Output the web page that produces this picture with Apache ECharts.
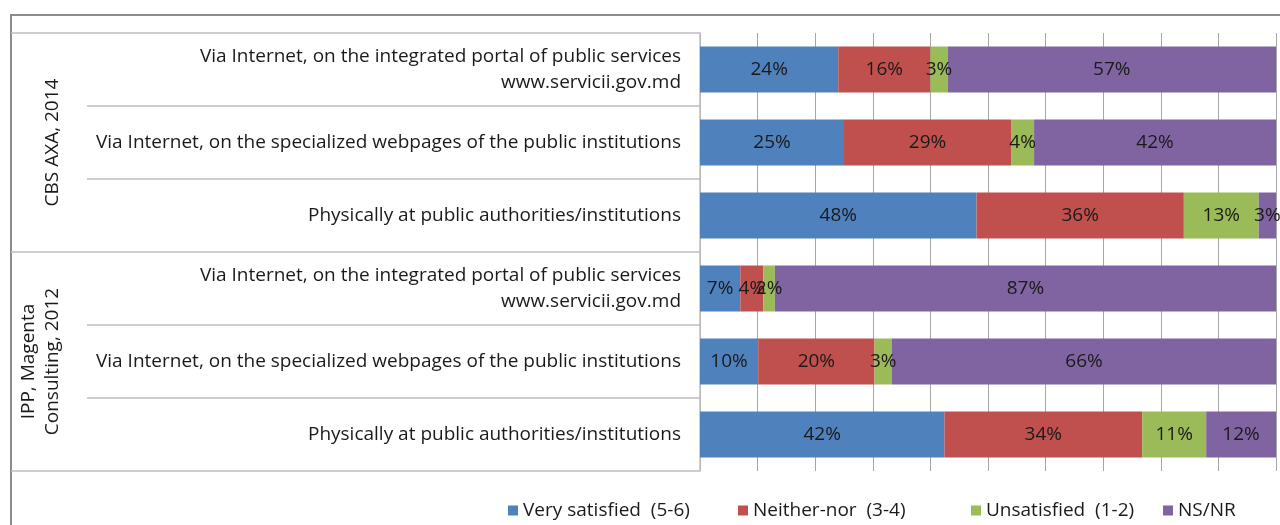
<!DOCTYPE html>
<html>
<head>
<meta charset="utf-8">
<title>Satisfaction with the way public services are obtained</title>
<script src="https://cdn.jsdelivr.net/npm/echarts@6/dist/echarts.min.js"></script>
<style>
  html, body { margin: 0; padding: 0; background: #fff; }
  #chart { width: 1280px; height: 525px; }
</style>
</head>
<body>
<div id="chart"></div>
<script>
// Ways of obtaining public services, top to bottom
const categories = [
  'Via Internet, on the integrated portal of public services\nwww.servicii.gov.md',
  'Via Internet, on the specialized webpages of the public institutions',
  'Physically at public authorities/institutions',
  'Via Internet, on the integrated portal of public services\nwww.servicii.gov.md',
  'Via Internet, on the specialized webpages of the public institutions',
  'Physically at public authorities/institutions'
];
// Survey sources, each covering three rows
const groups = ['CBS AXA, 2014', 'IPP, Magenta\nConsulting, 2012'];

// Shares of respondents, %
const verySatisfied = [24, 25, 48, 7, 10, 42];
const neitherNor    = [16, 29, 36, 4, 20, 34];
const unsatisfied   = [3, 4, 13, 2, 3, 11];
const nsNr          = [57, 42, 3, 87, 66, 12];

const seriesNames = ['Very satisfied  (5-6)', 'Neither-nor  (3-4)', 'Unsatisfied  (1-2)', 'NS/NR'];
const seriesColors = ['#4f81bd', '#c0504d', '#9bbb59', '#8064a2'];
const seriesValues = [verySatisfied, neitherNor, unsatisfied, nsNr];

// 100% stacked: each row is scaled to its own total
const rowTotals = categories.map((_, i) => seriesValues.reduce((s, arr) => s + arr[i], 0));

const FONT = 'Open Sans';
const FS = 19;
const TEXT = '#1a1a1a';

// one legend entry per block so the spacing follows the original key
const legendLeft = [508, 738, 971, 1163];

const chart = echarts.init(document.getElementById('chart'), null, { renderer: 'canvas' });

chart.setOption({
  animation: false,
  textStyle: { fontFamily: FONT },
  grid: { left: 700, right: 4, top: 33, bottom: 54, containLabel: false },
  graphic: [{
    type: 'rect',
    shape: { x: 11, y: 15, width: 1300, height: 540 },
    style: { fill: 'none', stroke: '#8c8c8c', lineWidth: 2 },
    silent: true
  }],
  legend: seriesNames.map((name, k) => ({
    top: 501,
    left: legendLeft[k],
    padding: 0,
    itemWidth: 10,
    itemHeight: 10,
    icon: 'rect',
    textStyle: { fontFamily: FONT, fontSize: FS, color: TEXT },
    data: [name]
  })),
  xAxis: {
    type: 'value',
    min: 0,
    max: 100,
    interval: 10,
    axisLine: { show: false },
    axisTick: { show: false },
    axisLabel: { show: false },
    splitLine: { show: true, lineStyle: { color: '#a6a6a6', width: 1 } }
  },
  yAxis: [{
    type: 'category',
    inverse: true,
    data: categories,
    axisLine: { show: true, lineStyle: { color: '#bfbfbf', width: 1.5 } },
    axisTick: { show: true, length: 613, lineStyle: { color: '#bfbfbf', width: 1.5 } },
    axisLabel: {
      margin: 19,
      fontFamily: FONT,
      fontSize: FS,
      lineHeight: 26,
      color: TEXT,
      align: 'right'
    }
  }, {
    type: 'category',
    inverse: true,
    position: 'left',
    data: groups,
    axisLine: { show: false },
    axisTick: { show: true, length: 689, lineStyle: { color: '#bfbfbf', width: 1.5 } },
    axisLabel: {
      rotate: 90,
      margin: 635,
      fontFamily: FONT,
      fontSize: FS,
      lineHeight: 24,
      color: TEXT
    }
  }],
  series: seriesNames.map((name, k) => ({
    name,
    type: 'bar',
    stack: 'total',
    yAxisIndex: 0,
    barCategoryGap: '37%',
    itemStyle: { color: seriesColors[k] },
    label: {
      show: true,
      position: 'inside',
      fontFamily: FONT,
      fontSize: FS,
      color: TEXT,
      formatter: p => p.data.raw + '%'
    },
    data: seriesValues[k].map((v, i) => ({ value: v / rowTotals[i] * 100, raw: v }))
  }))
});
</script>
</body>
</html>
